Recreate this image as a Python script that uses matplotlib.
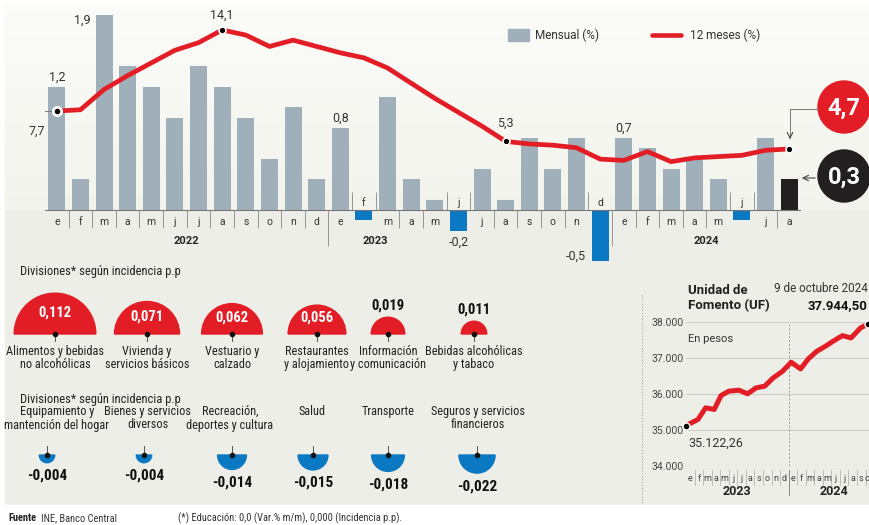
import numpy as np
import matplotlib.pyplot as plt
from matplotlib.patches import Wedge, Circle, Rectangle

# IPC mensual y 12 meses, enero 2022 - agosto 2024
meses = ['e', 'f', 'm', 'a', 'm', 'j', 'j', 'a', 's', 'o', 'n', 'd'] * 2 + ['e', 'f', 'm', 'a', 'm', 'j', 'j', 'a']
anios = ['2022', '2023', '2024']
mensual = [1.2, 0.3, 1.9, 1.4, 1.2, 0.9, 1.4, 1.2, 0.9, 0.5, 1.0, 0.3,
           0.8, -0.1, 1.1, 0.3, 0.1, -0.2, 0.4, 0.1, 0.7, 0.4, 0.7, -0.5,
           0.7, 0.6, 0.4, 0.5, 0.3, -0.1, 0.7, 0.3]
doce_meses = [7.7, 7.8, 9.4, 10.5, 11.5, 12.5, 13.1, 14.1, 13.7, 12.8, 13.3, 12.8,
              12.3, 11.9, 11.1, 9.9, 8.7, 7.6, 6.5, 5.3, 5.1, 5.0, 4.8, 3.9,
              3.8, 4.5, 3.7, 4.0, 4.1, 4.2, 4.6, 4.7]

# incidencias por division
div_pos = ['Alimentos y bebidas\nno alcohólicas', 'Vivienda y\nservicios básicos', 'Vestuario y\ncalzado',
           'Restaurantes\ny alojamiento', 'Información\ny comunicación', 'Bebidas alcohólicas\ny tabaco']
inc_pos = [0.112, 0.071, 0.062, 0.056, 0.019, 0.011]
div_neg = ['Equipamiento y\nmantención del hogar', 'Bienes y servicios\ndiversos', 'Recreación,\ndeportes y cultura',
           'Salud', 'Transporte', 'Seguros y servicios\nfinancieros']
inc_neg = [-0.004, -0.004, -0.014, -0.015, -0.018, -0.022]

# UF (meses desde enero 2023)
uf_mes = [0, 1.4, 2.3, 3.3, 4.1, 5.0, 6.2, 7.2, 8.2, 9.2, 10.2, 11.3, 12.3, 13.4, 14.3, 15.3, 16.3, 17.5, 18.3, 19.3, 20.4, 21.3]
uf_valor = [35122.26, 35293, 35617, 35570, 35958, 36078, 36106, 36005, 36171, 36217, 36448, 36633,
            36882, 36697, 36975, 37187, 37326, 37510, 37621, 37557, 37834, 37944.50]
uf_meses = ['e', 'f', 'm', 'a', 'm', 'j', 'j', 'a', 's', 'o', 'n', 'd', 'e', 'f', 'm', 'a', 'm', 'j', 'j', 'a', 's', 'o']

ROJO = '#e31d25'
AZUL = '#0a78c2'
GRIS = '#9fb0ba'
NEGRO = '#231f20'
NARROW = ['Roboto Condensed', 'DejaVu Sans Condensed', 'Liberation Sans Narrow', 'Roboto']
ROBOTO = ['Roboto', 'DejaVu Sans']

W, H = 870, 525
fig = plt.figure(figsize=(8.7, 5.25), dpi=100)
fig.patch.set_facecolor('white')

# fondo en pixeles
bg = fig.add_axes([0, 0, 1, 1])
bg.set_xlim(0, W)
bg.set_ylim(H, 0)
bg.axis('off')
bg.add_patch(Rectangle((5, 5), W, 500, color='#eeeee8', zorder=0))
grad = np.linspace(0, 1, 100).reshape(-1, 1)
c0 = np.array([0.985, 0.985, 0.975])
c1 = np.array([0.955, 0.955, 0.93])
img = c0 + (c1 - c0) * grad[..., None]
bg.imshow(img, extent=(5, W, 210, 5), aspect='auto', zorder=0.5)
bg.set_xlim(0, W)
bg.set_ylim(H, 0)

# grafico principal
ax = fig.add_axes([45 / W, (H - 265) / H, 756 / W, 260 / H])
ax.patch.set_alpha(0)
ax.set_xlim(-0.5, 31.5)
ax.set_ylim(-(265 - 210) / 102.6, (210 - 5) / 102.6)
ax.axis('off')
ax2 = ax.twinx()
ax2.set_ylim(-(265 - 208.5) / 12.66, (208.5 - 5) / 12.66)
ax2.axis('off')

x = np.arange(len(mensual))
colores = [NEGRO if i == len(mensual) - 1 else (AZUL if v < 0 else GRIS) for i, v in enumerate(mensual)]
ax.bar(x, mensual, width=0.72, color=colores, zorder=2)
ax.axhline(0, color='#777777', lw=0.8, zorder=3)

px = 1 / 102.6
neg = [i for i, v in enumerate(mensual) if v < 0]
for i, m in enumerate(meses):
    if mensual[i] < 0:
        ax.text(i, 7 * px, m, ha='center', va='center', fontsize=7.5, family=ROBOTO, color='#333333')
    else:
        ax.text(i, -12 * px, m, ha='center', va='center', fontsize=7.5, family=ROBOTO, color='#333333')
for b in np.arange(0.5, len(mensual) - 0.5):
    lado = [int(b - 0.5), int(b + 0.5)]
    if b in (11.5, 23.5):
        ax.vlines(b, -36 * px, 0, color='#888888', lw=0.6, zorder=3)
    elif lado[0] in neg or lado[1] in neg:
        ax.vlines(b, 0, 18 * px, color='#888888', lw=0.6, zorder=3)
    else:
        ax.vlines(b, -18 * px, 0, color='#888888', lw=0.6, zorder=3)
ax.vlines(31.5, -18 * px, 0, color='#888888', lw=0.6, zorder=3)
for k, anio in enumerate(anios):
    centro = [5.5, 13.5, 27.5][k]
    ax.text(centro, -31 * px, anio, ha='center', va='center', fontsize=8, fontweight='bold', family=ROBOTO, color='#222222')

# etiquetas de barras
for i in (0, 12, 24):
    ax.text(i, mensual[i] + 10 * px, f'{mensual[i]:.1f}'.replace('.', ','), ha='center', va='center',
            fontsize=9, family=ROBOTO, color='#333333')
ax.text(1.1, mensual[2] - 5 * px, f'{mensual[2]:.1f}'.replace('.', ','), ha='center', va='center',
        fontsize=9, family=ROBOTO, color='#333333')
ax.text(17, mensual[17] - 12 * px, f'{mensual[17]:.1f}'.replace('.', ','), ha='center', va='center',
        fontsize=9, family=ROBOTO, color='#333333')
ax.text(22.4, mensual[23] + 5 * px, f'{mensual[23]:.1f}'.replace('.', ','), ha='right', va='center',
        fontsize=9, family=ROBOTO, color='#333333')

# linea 12 meses
ax2.plot(x, doce_meses, color=ROJO, lw=3.4, zorder=4, solid_capstyle='butt', solid_joinstyle='round')
for i in (0, 7, 19, 31):
    ax2.plot(i, doce_meses[i], 'o', ms=6 if i == 0 else 5, color='black',
             mec='white', mew=2 if i == 0 else 1.2, zorder=5)
py = 1 / 12.66
ax2.text(7, doce_meses[7] + 15 * py, '14,1', ha='center', va='center', fontsize=9, family=ROBOTO, color='#333333')
ax2.text(19, doce_meses[19] + 18 * py, '5,3', ha='center', va='center', fontsize=9, family=ROBOTO, color='#333333')
ax2.text(-0.85, doce_meses[0] - 20 * py, '7,7', ha='center', va='center', fontsize=9, family=ROBOTO, color='#333333')
ax2.plot([-0.85, -0.85, -0.2], [doce_meses[0] - 11 * py, doce_meses[0], doce_meses[0]],
         color='#777777', lw=0.7, zorder=3)

# circulos finales
bg.add_patch(Circle((844, 107), 26, color=ROJO, zorder=6))
bg.text(844, 108, f'{doce_meses[-1]:.1f}'.replace('.', ','), ha='center', va='center', fontsize=17,
        fontweight='bold', color='white', family=ROBOTO, zorder=7)
bg.add_patch(Circle((844, 176), 26, color=NEGRO, zorder=6))
bg.text(844, 177, f'{mensual[-1]:.1f}'.replace('.', ','), ha='center', va='center', fontsize=17,
        fontweight='bold', color='white', family=ROBOTO, zorder=7)
bg.plot([818, 790, 790], [109, 109, 135], color='#777777', lw=0.7, zorder=6)
bg.annotate('', xy=(790, 142), xytext=(790, 134),
            arrowprops=dict(arrowstyle='->', color='#444444', lw=0.8), zorder=6)
bg.annotate('', xy=(799, 178), xytext=(818, 178),
            arrowprops=dict(arrowstyle='->', color='#444444', lw=0.8), zorder=6)

# leyenda
bg.add_patch(Rectangle((508, 29), 21, 12, color=GRIS, zorder=6))
bg.text(535, 35, 'Mensual (%)', va='center', fontsize=8.5, family=ROBOTO, color='#333333')
bg.plot([652, 681], [35, 35], color=ROJO, lw=3.3, solid_capstyle='round', zorder=6)
bg.text(690, 35, '12 meses (%)', va='center', fontsize=8.5, family=ROBOTO, color='#333333')

# divisiones positivas
bg.text(20, 272, 'Divisiones* según incidencia p.p', va='center', fontsize=9, family=NARROW, color='#222222')
cx_pos = [55, 147, 232, 317, 388, 474]
base_pos = 334
for cx, v, lab in zip(cx_pos, inc_pos, div_pos):
    r = 122 * np.sqrt(v)
    bg.add_patch(Wedge((cx, base_pos), r, 180, 360, color=ROJO, zorder=3))
    txt = f'{v:.3f}'.replace('.', ',')
    if r > 22:
        bg.text(cx, base_pos - 0.45 * r - 3, txt, ha='center', va='center', fontsize=10.5,
                fontweight='bold', color='white', family=NARROW, zorder=4)
    else:
        bg.text(cx, base_pos - r - 12, txt, ha='center', va='center', fontsize=10.5,
                fontweight='bold', color='#111111', family=NARROW, zorder=4)
    bg.plot([cx, cx], [base_pos, base_pos + 7], color='#555555', lw=0.7, zorder=4)
    bg.plot(cx, base_pos, 'o', ms=3, color='#111111', zorder=5)
    bg.text(cx, 358, lab, ha='center', va='center', fontsize=8.8, family=NARROW,
            color='#222222', linespacing=1.05)

# divisiones negativas
bg.text(20, 399, 'Divisiones* según incidencia p.p', va='center', fontsize=9, family=NARROW, color='#222222')
cx_neg = [47, 144, 232, 313, 388, 477]
lx_neg = [57, 148, 230, 312, 388, 478]
base_neg = 455
for cx, lx, v, lab in zip(cx_neg, lx_neg, inc_neg, div_neg):
    r = 122 * np.sqrt(-v)
    bg.add_patch(Wedge((cx, base_neg), r, 0, 180, color=AZUL, zorder=3))
    bg.plot([cx, cx], [base_neg - 9, base_neg], color='#555555', lw=0.7, zorder=4)
    bg.plot(cx, base_neg, 'o', ms=3, color='#111111', zorder=5)
    bg.text(cx, base_neg + r + 13, f'{v:.3f}'.replace('.', ','), ha='center', va='center', fontsize=11,
            fontweight='bold', color='#111111', family=NARROW)
    bg.text(lx, 405, lab, ha='center', va='top', fontsize=8.8,
            family=NARROW, color='#222222', linespacing=1.05)

# footer
bg.add_patch(Rectangle((0, 505), W, 20, color='white', zorder=1))
bg.text(8, 518, 'Fuente', va='center', fontsize=7.5, fontweight='bold', family=NARROW, color='#222222')
bg.text(41, 518, 'INE, Banco Central', va='center', fontsize=7.5, family=NARROW, color='#333333')
bg.text(178, 518, '(*) Educación: 0,0 (Var.% m/m), 0,000 (Incidencia p.p).', va='center', fontsize=7.5,
        family=NARROW, color='#333333')

# UF
bg.plot([642, 642], [295, 503], color='#999999', lw=0.7, ls=(0, (1, 2)))
axu = fig.add_axes([686 / W, (H - 466) / H, 184 / W, 144 / H])
axu.patch.set_alpha(0)
axu.set_xlim(0, 21.52)
axu.set_ylim(34000, 38000)
for s in axu.spines.values():
    s.set_visible(False)
axu.set_xticks([])
axu.set_yticks([34000, 35000, 36000, 37000, 38000])
axu.set_yticklabels([f'{v:,}'.replace(',', '.') for v in range(34000, 39000, 1000)],
                    fontsize=7.5, color='#444444', family=ROBOTO)
axu.tick_params(axis='y', length=0, pad=2)
for v in range(35000, 39000, 1000):
    axu.axhline(v, color='#cfcfca', lw=0.8, zorder=1)
axu.axhline(34000, color='#888888', lw=0.8, zorder=1)
axu.axvline(12, color='#999999', lw=0.7, ls=(0, (2, 2)), zorder=1)
axu.plot(uf_mes, uf_valor, color=ROJO, lw=3.6, zorder=3, clip_on=False, solid_capstyle='butt')
axu.plot([uf_mes[0], uf_mes[-1]], [uf_valor[0], uf_valor[-1]], 'o', ms=5, color='black',
         mec='white', mew=1, zorder=4, clip_on=False)
xt = axu.get_xaxis_transform()
for i, m in enumerate(uf_meses):
    if i == len(uf_meses) - 1:
        axu.text(21.5, -0.085, m, transform=xt, ha='right', va='center',
                 fontsize=6.5, family=ROBOTO, color='#444444', clip_on=False)
    else:
        axu.text(i + 0.5, -0.085, m, transform=xt, ha='center', va='center',
                 fontsize=6.5, family=ROBOTO, color='#444444', clip_on=False)
    if i > 0:
        axu.plot([i, i], [-0.13, -0.03], transform=xt, color='#aaaaaa', lw=0.5, clip_on=False)
axu.plot([12, 12], [-0.03, -0.2], transform=xt, color='#888888', lw=0.7, clip_on=False)
axu.text(6, -0.18, '2023', transform=xt, ha='center', va='center',
         fontsize=9, fontweight='bold', family=ROBOTO, color='#222222')
axu.text(17.3, -0.18, '2024', transform=xt, ha='center', va='center',
         fontsize=9, fontweight='bold', family=ROBOTO, color='#222222')

bg.text(688, 291, 'Unidad de', va='center', fontsize=9.5, fontweight='bold', family=ROBOTO, color='#222222')
bg.text(688, 306, 'Fomento (UF)', va='center', fontsize=9.5, fontweight='bold', family=ROBOTO, color='#222222')
bg.text(868, 289, '9 de octubre 2024', ha='right', va='center', fontsize=8.5, family=ROBOTO, color='#333333')
bg.text(868, 306, f'{uf_valor[-1]:,.2f}'.replace(',', 'X').replace('.', ',').replace('X', '.'), ha='right',
        va='center', fontsize=9.5, fontweight='bold', family=ROBOTO, color='#111111')
bg.text(688, 339, 'En pesos', va='center', fontsize=8, family=ROBOTO, color='#333333')
bg.text(688, 443, f'{uf_valor[0]:,.2f}'.replace(',', 'X').replace('.', ',').replace('X', '.'),
        va='center', fontsize=9, family=ROBOTO, color='#333333')

fig.savefig('out.png', dpi=100, facecolor='white')
